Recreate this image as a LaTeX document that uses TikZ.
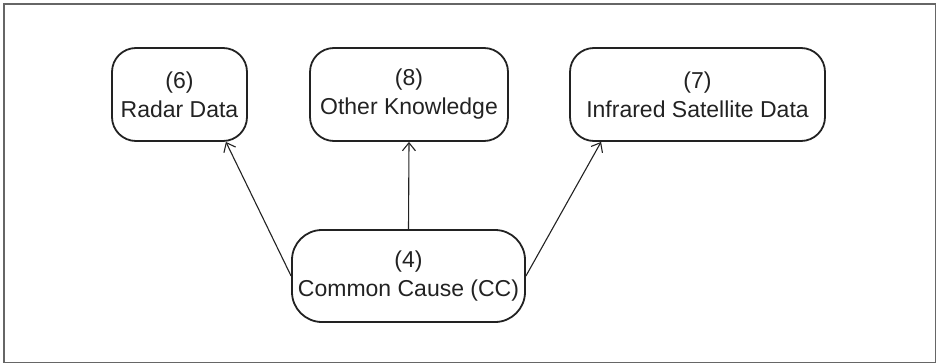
\documentclass[tikz,border=0pt]{standalone}
\usepackage{fontspec}
\setmainfont{Liberation Sans}
\usetikzlibrary{arrows.meta}
\definecolor{ink}{HTML}{222222}
\definecolor{framegray}{HTML}{666666}
\begin{document}
\begin{tikzpicture}[x=1pt,y=-1pt,
  infobox/.style={draw=ink, line width=1.8pt, rounded corners=24pt,
    inner sep=0pt, align=center, text=ink,
    font=\fontsize{23}{29}\selectfont},
  link/.style={draw=ink, line width=1.1pt,
    -{Straight Barb[length=8pt,width=13pt,line width=1.1pt]}}]
  % page area and outer frame
  \useasboundingbox (0,0) rectangle (937,364);
  \draw[framegray, line width=1.8pt] (4,4) rectangle (935.5,362.5);

  % evidence nodes
  \node[infobox, minimum width=135pt, minimum height=93pt] (radar) at (179.5,94.5) {(6)\\Radar Data};
  \node[infobox, minimum width=198pt, minimum height=93pt] (other) at (409,94.5) {(8)\\Other Knowledge};
  \node[infobox, minimum width=255pt, minimum height=93pt] (infra) at (697.5,94.5) {(7)\\Infrared Satellite Data};

  % common cause node
  \node[infobox, rounded corners=30pt, minimum width=233pt, minimum height=92pt] (cc) at (408.5,276) {(4)\\Common Cause (CC)};

  % links from the common cause
  \coordinate (radarIn) at ([xshift=-22pt]radar.south east);
  \coordinate (infraIn) at ([xshift=32pt]infra.south west);
  \draw[link] (cc.west) -- (radarIn);
  \draw[link] (cc.north) -- (other.south);
  \draw[link] (cc.east) -- (infraIn);
\end{tikzpicture}
\end{document}
